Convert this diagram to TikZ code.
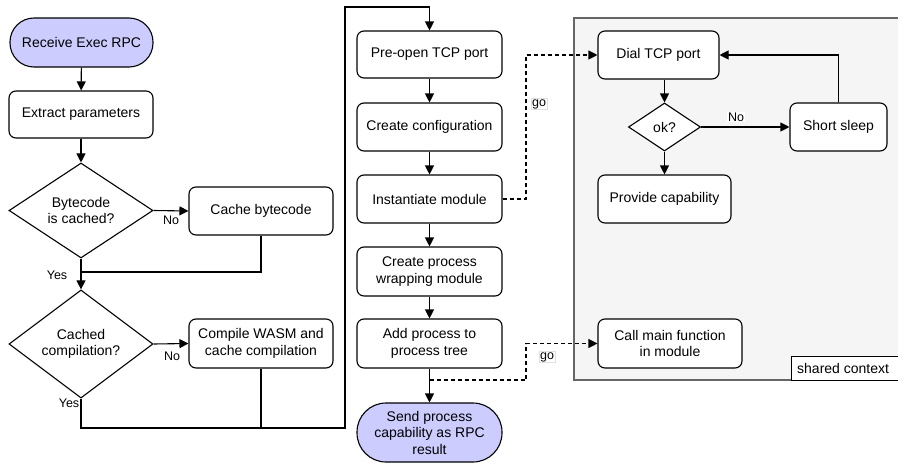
\documentclass[tikz,border=0pt]{standalone}
\usepackage{fontspec}
\setmainfont{Liberation Sans}
\usetikzlibrary{arrows.meta,shapes.geometric}
\definecolor{termfill}{HTML}{CCCCFF}
\definecolor{ctxfill}{HTML}{F5F5F5}
\definecolor{ctxline}{HTML}{666666}
\tikzset{
  base/.style={draw=black, line width=1.1pt, align=center, inner sep=2pt,
    font=\fontsize{14}{16.5}\selectfont, fill=white},
  stepbox/.style={base, rectangle, rounded corners=7pt},
  terminal/.style={base, rectangle, fill=termfill},
  decision/.style={base, diamond, inner sep=0pt},
  flow/.style={line width=1.1pt, draw=black},
  arr/.style={flow, -{Triangle[length=9pt,width=9pt]}},
  goarr/.style={arr, dash pattern=on 4pt off 3pt},
  golink/.style={flow, dash pattern=on 4pt off 3pt},
  lbl/.style={font=\fontsize{12.5}{14}\selectfont, inner sep=1pt},
  golbl/.style={lbl, fill=white, draw=black!12, line width=0.4pt},
}
\begin{document}
\begin{tikzpicture}[x=1pt,y=-1pt]
\useasboundingbox (0,0) rectangle (898,463);
\clip (0,0) rectangle (898,463);

% shared context frame
\draw[fill=ctxfill, draw=ctxline, line width=1.1pt] (574,18) rectangle (910,380);
\node[draw=black, line width=1.1pt, fill=white, minimum width=120pt, minimum height=24pt,
  anchor=north west, inner sep=0pt] (ctxtag) at (791,356) {};
\node[anchor=west, font=\fontsize{14}{16.5}\selectfont, inner sep=0pt] (ctxtext) at (797,368) {shared context};

% left column
\node[terminal, rounded corners=24pt, minimum width=143pt, minimum height=49pt] (recv) at (81.5,42.5) {Receive Exec RPC};
\node[stepbox, minimum width=144pt, minimum height=47pt] (extract) at (81,114.5) {Extract parameters};
\node[decision, minimum width=144pt, minimum height=95pt] (q1) at (81,210.5) {Bytecode\\is cached?};
\node[stepbox, minimum width=144pt, minimum height=48pt] (cache) at (261,211) {Cache bytecode};
\node[decision, minimum width=144pt, minimum height=96pt] (q2) at (81,344) {Cached\\compilation?};
\node[stepbox, minimum width=144pt, minimum height=49pt] (compile) at (261,343.5) {Compile WASM and\\cache compilation};

% middle column
\node[stepbox, minimum width=145pt, minimum height=47pt] (preopen) at (429.5,54.5) {Pre-open TCP port};
\node[stepbox, minimum width=145pt, minimum height=48pt] (config) at (429.5,127) {Create configuration};
\node[stepbox, minimum width=145pt, minimum height=48pt] (inst) at (429.5,199) {Instantiate module};
\node[stepbox, minimum width=145pt, minimum height=49pt] (wrap) at (429.5,271.5) {Create process\\wrapping module};
\node[stepbox, minimum width=145pt, minimum height=49pt] (addp) at (429.5,343.5) {Add process to\\process tree};
\node[terminal, rounded corners=29pt, minimum width=145pt, minimum height=59pt] (send) at (429.5,432.5) {Send process\\capability as RPC\\result};

% right column (shared context)
\node[stepbox, minimum width=121pt, minimum height=48pt] (dial) at (658.5,55) {Dial TCP port};
\node[decision, minimum width=72pt, minimum height=48pt] (ok) at (664.5,127) {ok?};
\node[stepbox, minimum width=133pt, minimum height=48pt] (provide) at (664.5,199) {Provide capability};
\node[stepbox, minimum width=97pt, minimum height=48pt] (sleep) at (838.5,127) {Short sleep};
\node[stepbox, minimum width=144pt, minimum height=49pt] (callmain) at (670,343.5) {Call main function\\in module};

% routing points
\coordinate (j1) at (81,272);
\coordinate (j2) at (81,428);
\coordinate (bus) at (345,428);
\coordinate (topleft) at (345,7);
\coordinate (topright) at (429.5,7);
\coordinate (gotap) at (429.5,380);
\coordinate (go1) at (526,199);
\coordinate (go2) at (526,380);

% left column flow
\draw[arr] (recv) -- (extract);
\draw[arr] (extract) -- (q1);
\draw[arr] (q1.east) -- (cache.west);
\node[lbl] (no1) at (171,220) {No};
\draw[flow] (cache.south) |- (j1);
\draw[arr] (q1.south) -- (q2.north);
\node[lbl] (yes1) at (57,275) {Yes};
\draw[arr] (q2.east) -- (compile.west);
\node[lbl] (no2) at (172,356) {No};
\draw[flow] (compile.south) -- (compile.south |- bus);
\draw[arr] (q2.south) -- (j2) -- (bus) -- (topleft) -- (topright) -- (preopen.north);
\node[lbl] (yes2) at (69,403) {Yes};

% middle column flow
\draw[arr] (preopen) -- (config);
\draw[arr] (config) -- (inst);
\draw[arr] (inst) -- (wrap);
\draw[arr] (wrap) -- (addp);
\draw[arr] (addp) -- (send);

% spawned goroutines
\draw[goarr] (inst.east) -- (go1) |- (dial.west);
\node[golbl] (go1lbl) at (539,104) {go};
\draw[goarr] (gotap) -- (go2) |- (callmain.west);
\node[golbl] (go2lbl) at (547,357) {go};

% dial loop
\draw[arr] (ok.north |- dial.south) -- (ok.north);
\draw[arr] (ok.east) -- (sleep.west);
\node[lbl, fill=white] (no3) at (736,117) {No};
\draw[arr] (ok.south) -- (provide.north);
\draw[arr] (sleep.north) |- (dial.east);
\end{tikzpicture}
\end{document}
